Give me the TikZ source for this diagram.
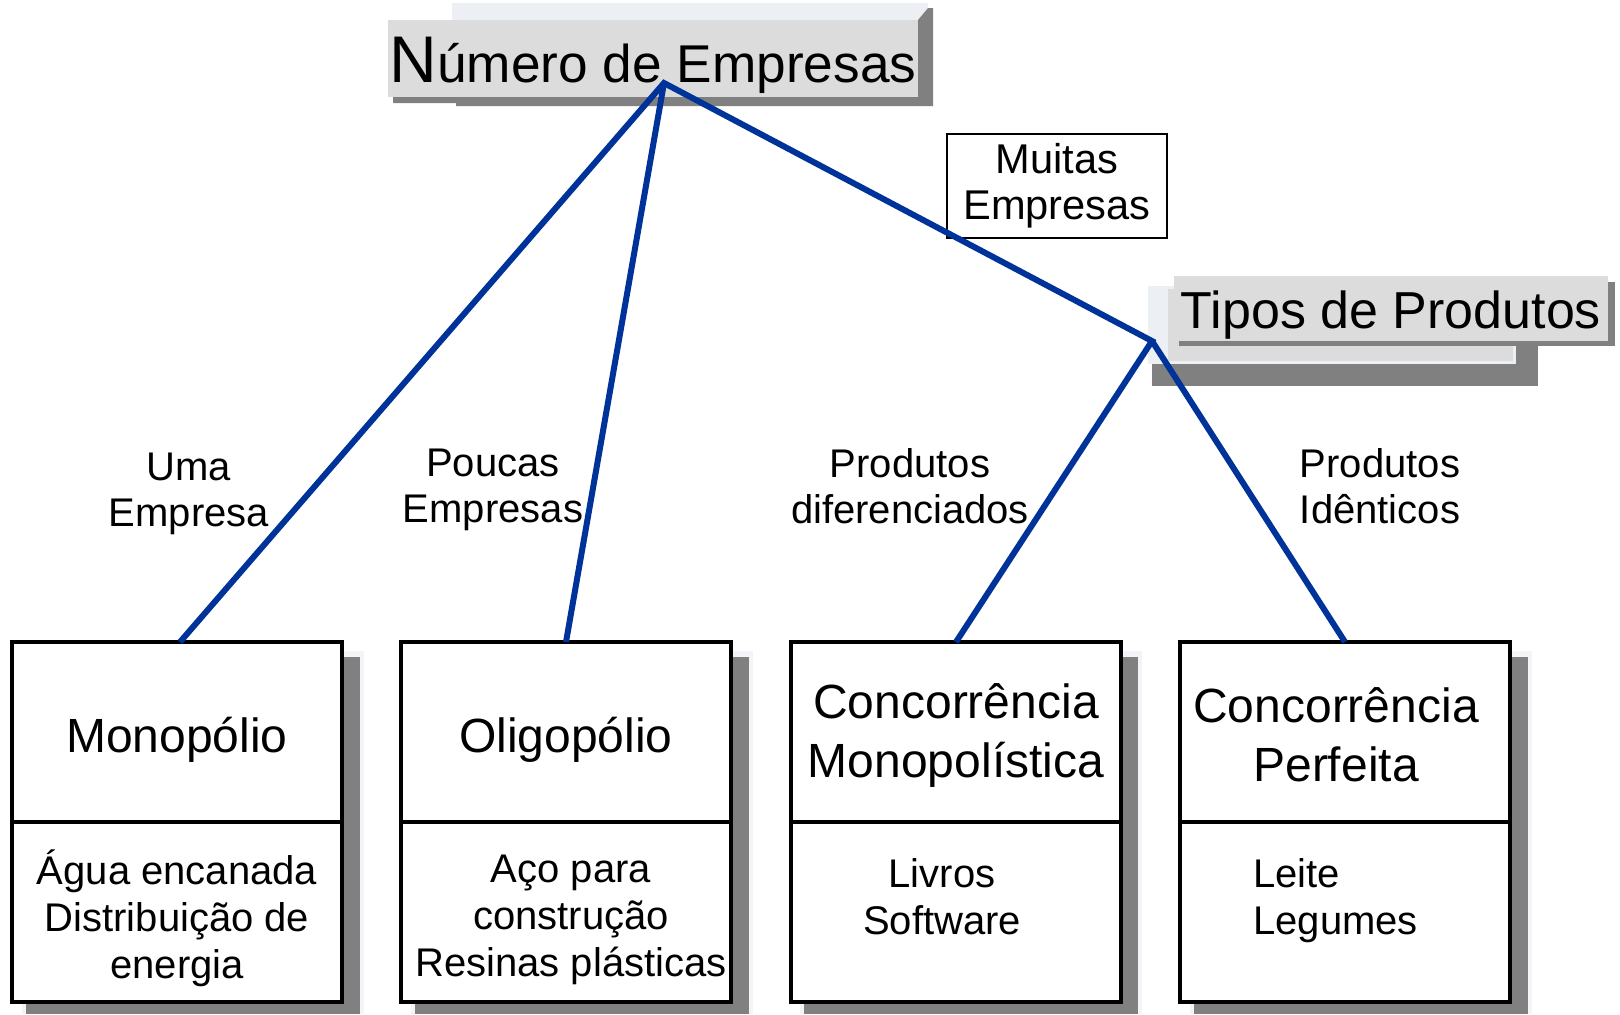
\documentclass[tikz,border=0pt]{standalone}
\usepackage{fontspec}
\setmainfont{Liberation Sans}
\usetikzlibrary{positioning}
\definecolor{branchblue}{RGB}{0,51,153}
\definecolor{headgray}{RGB}{220,220,220}
\definecolor{shadegray}{RGB}{128,128,128}
\definecolor{backlight}{RGB}{236,239,244}
\definecolor{halo}{RGB}{242,244,248}
\newcommand\lblfont{\fontsize{20pt}{23pt}\selectfont}
\newcommand\itemfont{\fontsize{20pt}{23.5pt}\selectfont}
\newcommand\cellfont{\fontsize{24pt}{29.5pt}\selectfont}
\newcommand\headfont{\fontsize{26pt}{31pt}\selectfont}
\tikzset{
  cell/.style={draw, line width=2pt, fill=white, minimum width=165pt, minimum height=90pt, inner sep=0pt, outer sep=0pt},
  branch/.style={draw=branchblue, line width=3pt},
  head/.style={fill=headgray, anchor=base, inner xsep=0pt, inner ysep=0pt, font=\headfont},
  txt/.style={align=center, inner sep=0pt}
}

\begin{document}
\begin{tikzpicture}[x=0.5pt, y=-0.5pt]
\useasboundingbox (0,0) rectangle (1620,1014);

% shadows of the four boxes
\foreach \x in {12,401,790,1180} {
  \fill[halo] (\x+10,651) rectangle (\x+352,1014);
  \fill[shadegray] (\x+14,657) rectangle (\x+348,1014);
}

% title with its 3d look
\fill[backlight] (452,3) -- (928,3) -- (928,8) -- (918,20) -- (452,20) -- cycle;
\fill[shadegray] (393,97) -- (393,103) -- (456,103) -- (456,106) -- (933,106) -- (933,8) -- (928,8) -- (918,20) -- (918,97) -- cycle;
\node[head, minimum width=265pt, text height=31pt, text depth=7.5pt, font=\fontsize{26.6pt}{31pt}\selectfont] (numero) at (653,82) {{\fontsize{33pt}{33pt}\selectfont N}úmero de Empresas};

% second heading
\fill[shadegray] (1152,346) rectangle (1538,386);
\filldraw[fill=headgray, draw=backlight, line width=1.5pt] (1149,287) rectangle (1514,362);
\fill[backlight] (1148,286) rectangle (1168,363);
\fill[shadegray] (1179,282) rectangle (1615,346);
\node[head, minimum width=217pt, text height=26pt, text depth=6.5pt] (tipos) at (1391,328) {Tipos de Produtos};

% boxes
\node[cell] (mono) at (177,732) {};
\node[cell, below=0pt of mono] (monoex) {};
\node[cell] (oligo) at (566,732) {};
\node[cell, below=0pt of oligo] (oligoex) {};
\node[cell] (cmono) at (956,732) {};
\node[cell, below=0pt of cmono] (cmonoex) {};
\node[cell] (cperf) at (1345,732) {};
\node[cell, below=0pt of cperf] (cperfex) {};

\node[txt, font=\cellfont] (monotxt) at (177,740) {Monopólio};
\node[txt, font=\itemfont] (monoextxt) at (177,918) {Água encanada\\Distribuição de\\energia};
\node[txt, font=\cellfont] (oligotxt) at (566,740) {Oligopólio};
\node[txt, font=\itemfont] (oligoextxt) at (571,920) {Aço para\\construção\\Resinas plásticas};
\node[txt, font=\cellfont] (cmonotxt) at (956,735) {Concorrência\\Monopolística};
\node[txt, font=\itemfont] (cmonoextxt) at (942,897) {Livros\\Software};
\node[txt, font=\cellfont] (cperftxt) at (1336,735) {Concorrência\\Perfeita};
\node[txt, font=\itemfont, align=left, anchor=west] (cperfextxt) at (1253,901) {Leite\\Legumes};

% branch labels
\node[txt, font=\lblfont] (uma) at (189,494) {Uma\\Empresa};
\node[txt, font=\lblfont] (poucas) at (493,490) {Poucas\\Empresas};
\node[txt, font=\lblfont] (difer) at (910,486) {Produtos\\diferenciados};
\node[txt, font=\lblfont] (ident) at (1380,486) {Produtos\\Idênticos};
\node[txt, draw, line width=0.65pt, fill=white, minimum width=110pt, minimum height=52pt, font=\fontsize{20.8pt}{23pt}\selectfont] (muitas) at (1057,186) {Muitas\\Empresas};

% branches
\coordinate (apex) at (664,83);
\coordinate (fork) at (1152,341);
\draw[branch] ([xshift=1.5pt]mono.north) -- (apex) -- (fork) -- (cmono.north);
\draw[branch] (oligo.north) -- (apex);
\draw[branch] (fork) -- (cperf.north);
\end{tikzpicture}
\end{document}
